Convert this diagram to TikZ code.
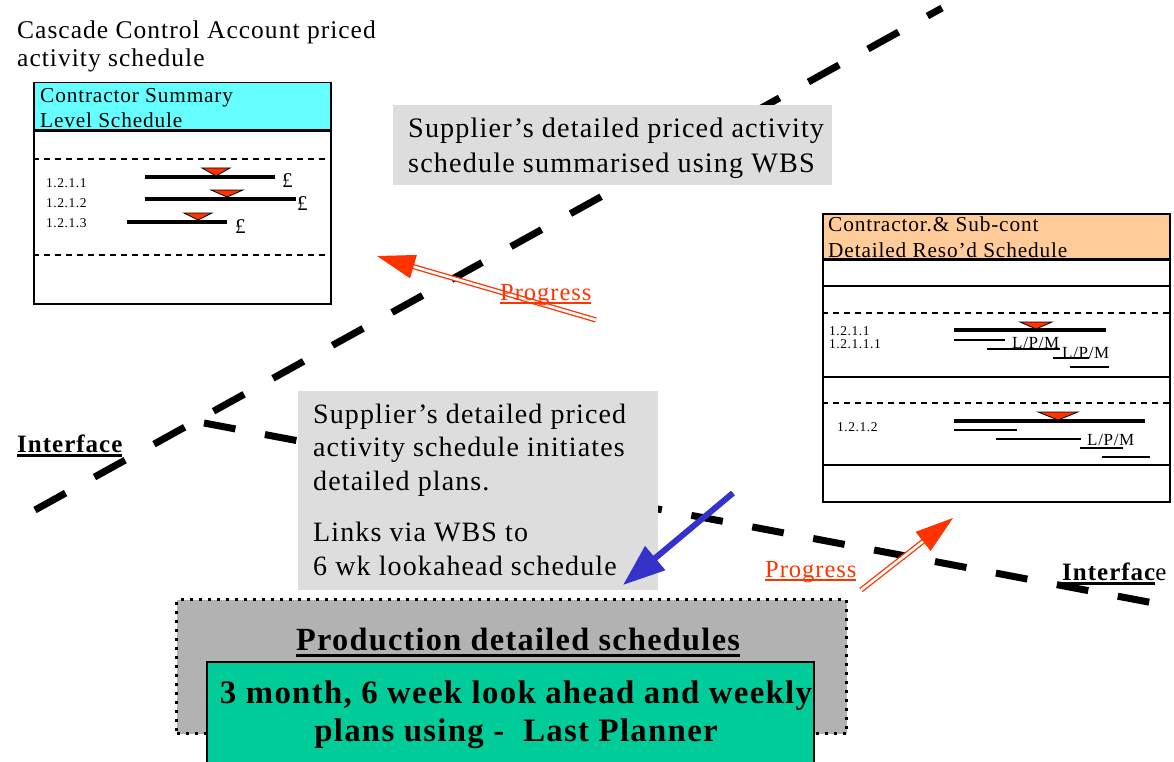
\documentclass[tikz,border=0pt]{standalone}
\usepackage{fontspec}
\setmainfont{Liberation Serif}[LetterSpace=4]
\usetikzlibrary{arrows.meta}
\definecolor{hdrcyan}{HTML}{66FFFF}
\definecolor{hdrorange}{HTML}{FFCC99}
\definecolor{boxgray}{HTML}{DDDDDD}
\definecolor{prodgray}{HTML}{B2B2B2}
\definecolor{lpgreen}{HTML}{00CC99}
\definecolor{progred}{HTML}{FF3300}
\definecolor{linkblue}{HTML}{3333CC}
\newcommand\fsz[2]{\fontsize{#1}{#2}\selectfont}
\newsavebox\myulbox
\newcommand\ulx[3][2pt]{\sbox\myulbox{#3}\rlap{\rule[-#2]{\wd\myulbox}{#1}}\usebox\myulbox}
\begin{document}
\begin{tikzpicture}[x=1pt,y=-1pt,
  txt/.style={inner sep=0pt, anchor=base west, align=left},
  ctxt/.style={inner sep=0pt, anchor=base, align=center},
  frame/.style={draw=black, line width=1.5pt, inner sep=0pt, anchor=north west},
  ifline/.style={line width=7pt, line cap=butt},
  bar/.style={line width=3.5pt},
  thinbar/.style={line width=1.8pt},
  rowdash/.style={line width=1.5pt, dash pattern=on 6pt off 5pt},
  marker/.style={fill=progred, draw=black, line width=0.8pt},
  progress/.style={draw=progred, line width=1.3pt, double=white, double distance=2.6pt, -{Triangle[length=38pt,width=24pt]}},
  progtxt/.style={txt, text=progred, font=\fsz{24.5}{27}},
  grayblk/.style={fill=boxgray, inner sep=0pt, anchor=north west},
]
\useasboundingbox (0,0) rectangle (1174,762);
\clip (0,0) rectangle (1174,762);

% interface lines
\coordinate (if1a) at (35,510);
\coordinate (if1b) at (942,8);
\draw[ifline, dash pattern=on 35pt off 33pt] (if1a) -- (if1b);
\coordinate (if2a) at (204,423);
\coordinate (if2b) at (1180,608);
\draw[ifline, dash pattern=on 32pt off 30pt] (if2a) -- (if2b);

% title (base anchor = last line)
\node[txt, font=\fsz{25.5}{28}] (title) at (17,67) {Cascade Control Account priced\\activity schedule};

% contractor summary box
\node[frame, fill=white, minimum width=297, minimum height=221] (sumsched) at (33,82) {};
\node[frame, fill=hdrcyan, minimum width=297, minimum height=47] (sumhdr) at (33,82) {};
\draw[line width=2.5pt] (sumhdr.south west) -- (sumhdr.south east);
\draw[rowdash] (33,159) -- (330,159);
\draw[rowdash] (33,255) -- (330,255);
\node[txt, font=\fsz{21.3}{25}] (sumhdrtxt) at (40,128) {Contractor Summary\\Level Schedule};
\node[txt, font=\fsz{13.5}{15}] (s1) at (46,187) {1.2.1.1};
\node[txt, font=\fsz{13.5}{15}] (s2) at (46,207) {1.2.1.2};
\node[txt, font=\fsz{13.5}{15}] (s3) at (46,227) {1.2.1.3};
\draw[bar] (145,177) -- (275,177);
\draw[bar] (145,199) -- (296,199);
\draw[bar] (127,222) -- (227,222);
\filldraw[marker] (202,168) -- (230,168) -- (216,176) -- cycle;
\filldraw[marker] (211,190) -- (243,190) -- (227,197) -- cycle;
\filldraw[marker] (184,213) -- (212,213) -- (198,220) -- cycle;
\node[txt, font=\fsz{21}{24}] (p1) at (282,187) {£};
\node[txt, font=\fsz{21}{24}] (p2) at (297,210) {£};
\node[txt, font=\fsz{21}{24}] (p3) at (235,233) {£};

% detailed reso'd box
\node[frame, fill=white, minimum width=347, minimum height=288] (detbox) at (822,213) {};
\node[frame, fill=hdrorange, minimum width=347, minimum height=45] (dethdr) at (822,213) {};
\draw[line width=2.5pt] (dethdr.south west) -- (dethdr.south east);
\draw[line width=1.5pt] (822,286) -- (1169,286);
\draw[rowdash] (822,313) -- (1169,313);
\draw[line width=2.5pt] (822,377) -- (1169,377);
\draw[rowdash] (822,403) -- (1169,403);
\draw[line width=1.5pt] (822,465) -- (1169,465);
\node[txt, font=\fsz{21.3}{26}] (dethdrtxt) at (828,257) {Contractor.\& Sub-cont\\Detailed Reso’d Schedule};
\node[txt, font=\fsz{13.5}{13}] (d1) at (829,348) {1.2.1.1\\1.2.1.1.1};
\node[txt, font=\fsz{13.5}{15}] (d2) at (837,431) {1.2.1.2};
\draw[bar] (954,330) -- (1106,330);
\filldraw[marker] (1020,322) -- (1052,322) -- (1036,329) -- cycle;
\draw[thinbar] (954,340) -- (1005,340);
\draw[thinbar] (987,349) -- (1060,349);
\draw[thinbar] (1053,358) -- (1089,358);
\draw[thinbar] (1070,367) -- (1109,367);
\node[txt, font=\fsz{17}{19}] (lpm1) at (1012,348) {L/P/M};
\node[txt, font=\fsz{17}{19}] (lpm2) at (1062,358) {L/P/M};
\draw[bar] (954,421) -- (1145,421);
\filldraw[marker] (1038,412) -- (1078,412) -- (1058,420) -- cycle;
\draw[thinbar] (954,430) -- (1017,430);
\draw[thinbar] (996,439) -- (1081,439);
\draw[thinbar] (1080,448) -- (1123,448);
\draw[thinbar] (1102,457) -- (1150,457);
\node[txt, font=\fsz{17}{19}] (lpm3) at (1087,445) {L/P/M};

% gray text boxes
\node[grayblk, minimum width=439, minimum height=80] (sumwbs) at (393,105) {};
\node[txt, font=\fsz{28.2}{35}] (sumwbstxt) at (408,172) {Supplier’s detailed priced activity\\schedule summarised using WBS};
\node[grayblk, minimum width=360, minimum height=199] (initbox) at (298,391) {};
\node[txt, font=\fsz{28}{33.5}] (inittxt) at (313,490) {Supplier’s detailed priced\\activity schedule initiates\\detailed plans.};
\node[txt, font=\fsz{28}{34}] (linktxt) at (313,575) {Links via WBS to\\6 wk lookahead schedule};

% interface labels
\node[txt, font=\fsz{25}{28}\bfseries] (ifleft) at (17,452) {\ulx[3pt]{5pt}{Interface}};
\node[txt, font=\fsz{25}{28}] (ifright) at (1062,580) {\ulx[3pt]{5pt}{\bfseries Interfac}e};

% progress arrows
\coordinate (pr1s) at (596,320);
\coordinate (pr1e) at (377,256);
\draw[progress] (pr1s) -- (pr1e);
\node[progtxt] (pr1txt) at (500,300) {\ulx{4pt}{Progress}};
\coordinate (pr2s) at (861,590);
\coordinate (pr2e) at (953,518);
\draw[progress] (pr2s) -- (pr2e);
\node[progtxt] (pr2txt) at (765,577) {\ulx{4pt}{Progress}};

% production box
\node[inner sep=0pt, anchor=north west, fill=prodgray, draw=black, line width=3pt, dash pattern=on 3pt off 6pt, minimum width=670, minimum height=134] (prodbox) at (175,598) {};
\node[ctxt, font=\fsz{32.3}{36}\bfseries] (prodtxt) at (518,650) {\ulx[3pt]{7pt}{Production detailed schedules}};
\node[inner sep=0pt, anchor=north west, fill=lpgreen, draw=black, line width=2pt, minimum width=607, minimum height=130] (lpbox) at (206,661) {};
\node[ctxt, font=\fsz{32.8}{38}\bfseries] (lptxt) at (516,741) {3 month, 6 week look ahead and weekly\\plans using -~ Last Planner};

% blue link arrow
\coordinate (bls) at (733,493);
\coordinate (ble) at (623,585);
\draw[line width=6pt, linkblue, -{Triangle[length=42pt,width=30pt]}] (bls) -- (ble);
\end{tikzpicture}
\end{document}
